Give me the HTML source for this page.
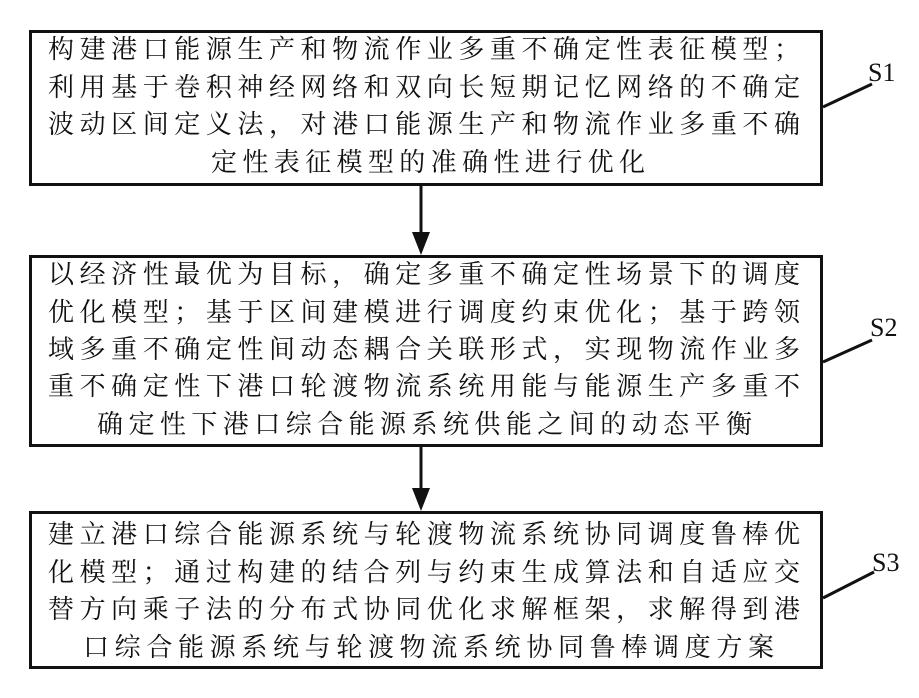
<!DOCTYPE html>
<html><head><meta charset="utf-8"><style>
body{margin:0;background:#fff;}
#c{position:relative;width:919px;height:698px;overflow:hidden;font-family:"Liberation Serif","Noto Serif CJK SC","Noto Sans CJK SC",serif;color:#111;}
.box{position:absolute;border:3px solid #111;box-sizing:border-box;left:29px;width:794px;}
.l{position:absolute;font-size:26px;line-height:30px;white-space:nowrap;text-align:justify;text-align-last:justify;}
.s{position:absolute;font-size:26px;font-family:"Liberation Serif",serif;}
</style></head><body><div id="c">
<div class="box" style="top:30px;height:156px"></div>
<div class="box" style="top:255px;height:192px"></div>
<div class="box" style="top:511px;height:158px"></div>

<div class="l" style="left:48px;width:752px;top:35px">构建港口能源生产和物流作业多重不确定性表征模型；</div>
<div class="l" style="left:48px;width:752px;top:73px">利用基于卷积神经网络和双向长短期记忆网络的不确定</div>
<div class="l" style="left:48px;width:752px;top:110px">波动区间定义法，对港口能源生产和物流作业多重不确</div>
<div class="l" style="left:211px;width:434px;top:148px">定性表征模型的准确性进行优化</div>

<div class="l" style="left:48px;width:752px;top:260px">以经济性最优为目标，确定多重不确定性场景下的调度</div>
<div class="l" style="left:48px;width:752px;top:298px">优化模型；基于区间建模进行调度约束优化；基于跨领</div>
<div class="l" style="left:48px;width:752px;top:335px">域多重不确定性间动态耦合关联形式，实现物流作业多</div>
<div class="l" style="left:48px;width:752px;top:372px">重不确定性下港口轮渡物流系统用能与能源生产多重不</div>
<div class="l" style="left:97px;width:655px;top:410px">确定性下港口综合能源系统供能之间的动态平衡</div>

<div class="l" style="left:48px;width:752px;top:520px">建立港口综合能源系统与轮渡物流系统协同调度鲁棒优</div>
<div class="l" style="left:48px;width:752px;top:558px">化模型；通过构建的结合列与约束生成算法和自适应交</div>
<div class="l" style="left:48px;width:752px;top:595px">替方向乘子法的分布式协同优化求解框架，求解得到港</div>
<div class="l" style="left:83px;width:691px;top:633px">口综合能源系统与轮渡物流系统协同鲁棒调度方案</div>

<svg width="919" height="698" style="position:absolute;left:0;top:0">
<g stroke="#111" stroke-width="3">
<line x1="421" y1="186" x2="421" y2="235"/>
<line x1="421" y1="447" x2="421" y2="490"/>
<line x1="823" y1="107" x2="872" y2="84"/>
<line x1="823" y1="362" x2="872" y2="340"/>
<line x1="823" y1="598" x2="874" y2="572"/>
</g>
<polygon points="412,232 430,232 421,255" fill="#111"/>
<polygon points="412,488 430,488 421,511" fill="#111"/>
</svg>
<div class="s" style="left:868px;top:58px">S1</div>
<div class="s" style="left:870px;top:313px">S2</div>
<div class="s" style="left:872px;top:548px">S3</div>
</div></body></html>
